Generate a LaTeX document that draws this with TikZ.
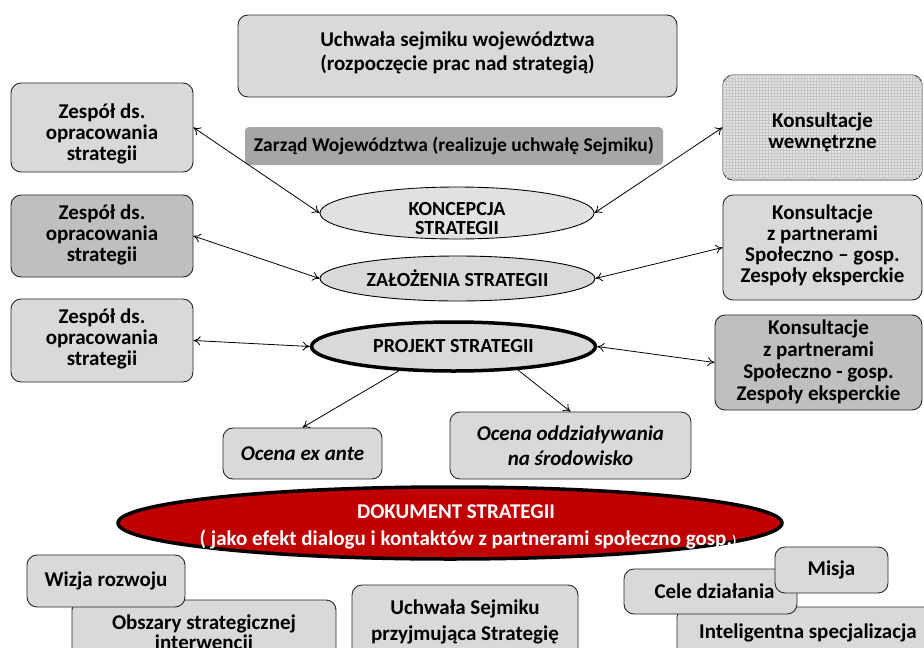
\documentclass[tikz,border=0pt]{standalone}
\usepackage{fontspec}
\setmainfont{Carlito}
\usetikzlibrary{shapes.geometric,arrows.meta,patterns}
\definecolor{lg}{HTML}{D9D9D9}
\definecolor{mg}{HTML}{BFBFBF}
\definecolor{dg}{HTML}{A6A6A6}
\definecolor{dred}{HTML}{C00000}
\newcommand{\tl}[2]{\raisebox{#1}[\height][\depth]{\begin{tabular}{@{}c@{}}#2\end{tabular}}}
\begin{document}
\begin{tikzpicture}[x=1pt,y=-1pt,
  box/.style={draw=black!85, line width=0.9pt, rounded corners=10pt, fill=lg, align=center, inner sep=0pt,
    font=\bfseries\fontsize{21}{21}\selectfont},
  ell/.style={ellipse, draw=black, line width=0.9pt, fill=lg, align=center, inner sep=0pt,
    font=\bfseries\fontsize{20}{20}\selectfont},
  txt/.style={align=center, inner sep=0pt, font=\bfseries\fontsize{20}{19}\selectfont},
  dbl/.style={{To[length=7pt,width=9pt]}-{To[length=7pt,width=9pt]}, line width=0.8pt},
  sgl/.style={-{To[length=7pt,width=9pt]}, line width=0.8pt}]
\useasboundingbox (0,0) rectangle (924,648);
\clip (0,0) rectangle (924,648);
\fill[white] (0,0) rectangle (924,648);

% top
\node[box, minimum width=439pt, minimum height=82pt] (top) at (457.5,56)
  {\tl{2pt}{Uchwała sejmiku województwa\\[2pt](rozpoczęcie prac nad strategią)}};
\node[box, draw=none, rounded corners=4pt, fill=dg, minimum width=418pt, minimum height=38pt,
  font=\bfseries\fontsize{19.5}{20}\selectfont] (zarzad) at (454,146)
  {Zarząd Województwa (realizuje uchwałę Sejmiku)};

% left boxes
\node[box, minimum width=182pt, minimum height=89pt] (L1) at (102,127.5)
  {\tl{-8pt}{Zespół ds.\\opracowania\\strategii}};
\node[box, fill=mg, minimum width=182pt, minimum height=82pt] (L2) at (102,236)
  {\tl{0pt}{Zespół ds.\\opracowania\\strategii}};
\node[box, minimum width=182pt, minimum height=83pt] (L3) at (102,340.5)
  {\tl{0pt}{Zespół ds.\\opracowania\\strategii}};

% right boxes
\node[box, fill=gray!22, minimum width=199pt, minimum height=105pt,
  postaction={pattern=grid, pattern color=gray!45}] (R1) at (822.5,127.5)
  {\tl{-6pt}{Konsultacje\\wewnętrzne}};
\node[box, minimum width=199pt, minimum height=105pt] (R2) at (822.5,247.5)
  {\tl{1pt}{Konsultacje\\z partnerami\\Społeczno – gosp.\\Zespoły eksperckie}};
\node[box, fill=mg, minimum width=207pt, minimum height=95pt, font=\bfseries\fontsize{21}{22}\selectfont]
  (R3) at (818.5,362.5)
  {\tl{-1pt}{Konsultacje\\z partnerami\\Społeczno - gosp.\\Zespoły eksperckie}};

% ellipses
\node[ell, fill=gray!22, minimum width=274pt, minimum height=52pt,
  postaction={pattern=dots, pattern color=gray!40}] (konc) at (457,213) {};
\node[txt] (konctxt) at (457,219) {KONCEPCJA\\STRATEGII};
\node[ell, minimum width=275pt, minimum height=45pt] (zal) at (457.5,278.5)
  {ZAŁOŻENIA STRATEGII};
\node[ell, line width=3.5pt, minimum width=284pt, minimum height=49pt] (proj) at (453.5,346.5)
  {PROJEKT STRATEGII};

% evaluation boxes
\node[box, minimum width=159pt, minimum height=51pt, font=\bfseries\itshape\fontsize{21}{23}\selectfont]
  (exante) at (302.5,453.5) {Ocena ex ante};
\node[box, minimum width=241pt, minimum height=67pt, font=\bfseries\itshape\fontsize{21}{25}\selectfont]
  (oddz) at (570.5,445.5) {Ocena oddziaływania\\na środowisko};

% bottom boxes
\node[box, minimum width=264pt, minimum height=74pt, font=\bfseries\fontsize{21}{19}\selectfont]
  (obsz) at (204,637) {\tl{2pt}{Obszary strategicznej\\interwencji}};
\node[box, minimum width=158pt, minimum height=52pt] (wizja) at (106,581) {Wizja rozwoju};
\node[box, minimum width=226pt, minimum height=80pt] (uchw) at (465,625)
  {\tl{2pt}{Uchwała Sejmiku\\[5pt]przyjmująca Strategię}};
\node[box, minimum width=262pt, minimum height=60pt] (intel) at (808,637)
  {\raisebox{4pt}[\height][\depth]{Inteligentna specjalizacja}};
\node[box, minimum width=173pt, minimum height=45pt] (cele) at (710.5,591.5)
  {\hspace*{8pt}Cele działania};
\node[box, minimum width=113pt, minimum height=46pt] (misja) at (831.5,570) {Misja};

% document ellipse
\node[ellipse, draw=black, line width=3.5pt, fill=dred, inner sep=0pt,
  minimum width=664pt, minimum height=72pt] (dok) at (450,523) {};
\node[txt, text=white, font=\bfseries\fontsize{21}{27}\selectfont] (doktxt) at (456,527)
  {DOKUMENT STRATEGII\\\hspace*{24pt}( jako efekt dialogu i kontaktów z partnerami społeczno gosp.{\fontsize{14}{14}\selectfont)}};

% connectors
\draw[dbl] (L1.east) -- (konc.west);
\draw[dbl] (R1.west) -- (konc.east);
\draw[dbl] (L2.east) -- (zal.west);
\draw[dbl] (R2.west) -- (zal.east);
\draw[dbl] (L3.east) -- (proj.west);
\draw[dbl] (proj.east) -- (R3.west);
\draw[sgl] (proj.204) -- (exante.north);
\draw[sgl] (proj.340) -- (oddz.north);
\end{tikzpicture}
\end{document}
